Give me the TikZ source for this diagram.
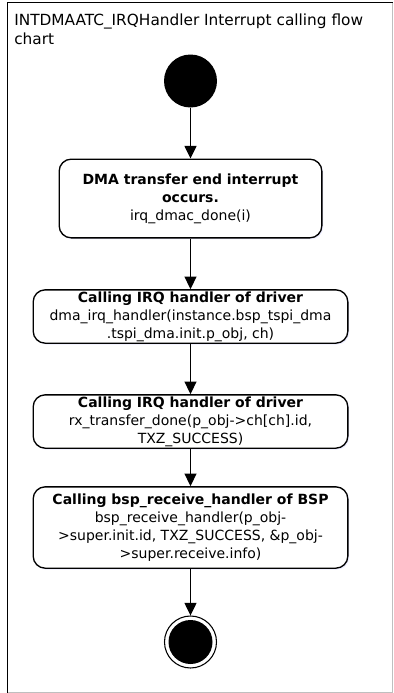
\documentclass[tikz,border=0pt]{standalone}
\usepackage{fontspec}
\setmainfont{DejaVu Sans}
\usetikzlibrary{arrows.meta,shadows}

\begin{document}
\begin{tikzpicture}[x=0.75pt,y=-0.75pt]
		\tikzstyle{initial}=[circle,minimum size=39.75pt,inner sep=0pt,fill=black]
		\tikzstyle{final}=[circle,minimum size=39pt,inner sep=0pt,draw,line width=0.8pt,fill=white]
		\tikzstyle{finaldot}=[circle,minimum size=33pt,inner sep=0pt,fill=black]
		\tikzstyle{action}=[rectangle,rounded corners=9pt,draw,line width=1pt,fill=white,align=center,
			inner sep=1pt,font=\fontsize{10.5}{13.6}\selectfont,
			drop shadow={opacity=0.3,fill=blue!25,shadow xshift=1pt,shadow yshift=-1pt}]
		\tikzstyle{flow}=[-{Triangle[length=9.5pt,width=9pt]},line width=1.1pt]
		
		\useasboundingbox (0,0) rectangle (393,693);
		% frame of the chart
		\draw[black!25,line width=1pt] (392.5,2.5) -- (392.5,692.5) -- (7.5,692.5);
		\draw[line width=1pt] (7.5,692.5) -- (7.5,2.5) -- (392.5,2.5);
		\node[anchor=north west,align=left,inner sep=0pt,font=\fontsize{11.5}{13.8}\selectfont] (title) at (14,14)
			{INTDMAATC\_IRQHandler Interrupt calling flow\\chart};
		
		\node [initial] (begin) at (190.5,81) {};
		\node [action,minimum width=197pt,minimum height=59pt] (dmaend) at (190.5,198.5)
			{\textbf{DMA transfer end interrupt}\\\textbf{occurs.}\\irq\_dmac\_done(i)};
		\node [action,minimum width=236pt,minimum height=40pt] (drvirq) at (190.5,316.5)
			{\textbf{Calling IRQ handler of driver}\\dma\_irq\_handler(instance.bsp\_tspi\_dma\\.tspi\_dma.init.p\_obj, ch)};
		\node [action,minimum width=236pt,minimum height=40pt] (rxdone) at (190.5,421.5)
			{\textbf{Calling IRQ handler of driver}\\rx\_transfer\_done(p\_obj->ch[ch].id,\\TXZ\_SUCCESS)};
		\node [action,minimum width=236pt,minimum height=61pt] (bsprecv) at (190.5,527.5)
			{\textbf{Calling bsp\_receive\_handler of BSP}\\bsp\_receive\_handler(p\_obj-\\>super.init.id, TXZ\_SUCCESS, \&p\_obj-\\>super.receive.info)};
		\node [final] (end) at (190.5,642) {};
		\node [finaldot] (enddot) at (end) {};
		
		\draw [flow] (begin) -- (dmaend);
		\draw [flow] (dmaend) -- (drvirq);
		\draw [flow] (drvirq) -- (rxdone);
		\draw [flow] (rxdone) -- (bsprecv);
		\draw [flow] (bsprecv) -- (end);
\end{tikzpicture}
\end{document}
